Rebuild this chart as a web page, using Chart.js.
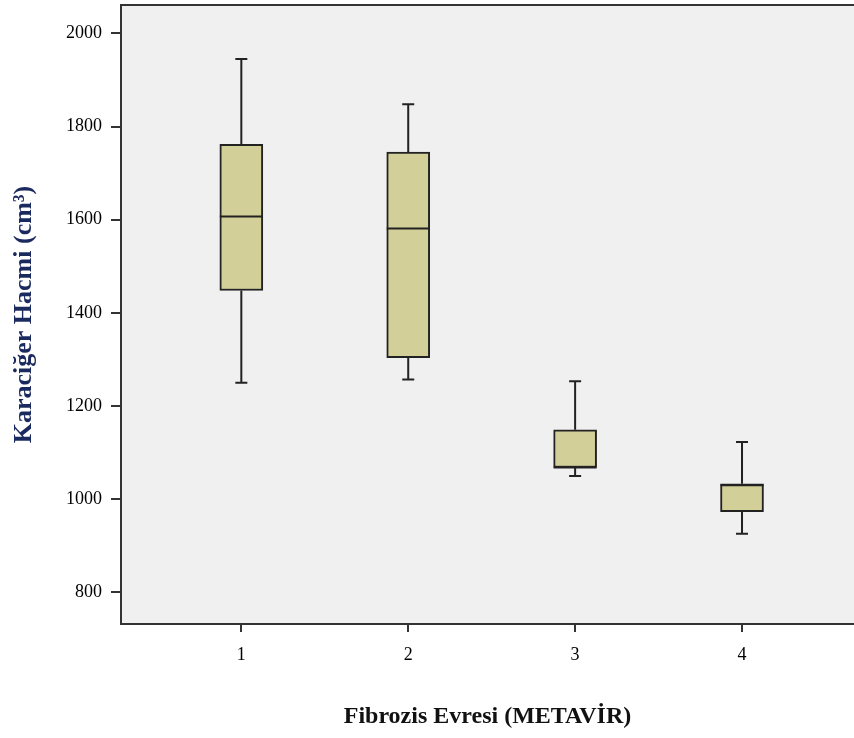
<html>
<head>
    <meta charset="utf-8">
    <script src="https://cdn.jsdelivr.net/npm/chart.js@4.4.1/dist/chart.umd.min.js"></script>
    <style>
        body { margin: 0; background: #ffffff; }
    </style>
</head>
<body onload="drawChart();">
<canvas id="boxChart" width="854" height="738"></canvas>

<script type="text/javascript">
    // fibrosis stages and box plot values
    const stages = [1, 2, 3, 4];
    const whiskerLow = [1250, 1257, 1050, 926];
    const q1 = [1448, 1304, 1068, 973];
    const median = [1607, 1581, 1068, 1030];
    const q3 = [1762, 1745, 1149, 1033];
    const whiskerHigh = [1945, 1848, 1253, 1123];
    const yTicks = [800, 1000, 1200, 1400, 1600, 1800, 2000];

    var boxChartObj;

    // plot background + top frame line
    const frame = {
        id: 'frame',
        beforeDraw(chart) {
            const {ctx, chartArea: a} = chart;
            ctx.save();
            ctx.fillStyle = '#f0f0f0';
            ctx.fillRect(a.left, a.top, a.right - a.left, a.bottom - a.top);
            ctx.strokeStyle = '#333333';
            ctx.lineWidth = 2;
            ctx.beginPath();
            ctx.moveTo(a.left, a.top);
            ctx.lineTo(a.right, a.top);
            ctx.stroke();
            ctx.restore();
        }
    };

    // whiskers and medians, placed through the chart scales
    const whiskers = {
        id: 'whiskers',
        afterDatasetsDraw(chart) {
            const {ctx, scales: {x, y}} = chart;
            ctx.save();
            ctx.strokeStyle = '#222222';
            ctx.lineWidth = 2;
            for (let i = 0; i < stages.length; i++) {
                const cx = x.getPixelForValue(stages[i]);
                const boxW = chart.getDatasetMeta(0).data[i].width;
                const capW = 12;
                ctx.beginPath();
                ctx.moveTo(cx, y.getPixelForValue(q3[i]));
                ctx.lineTo(cx, y.getPixelForValue(whiskerHigh[i]));
                ctx.moveTo(cx - capW / 2, y.getPixelForValue(whiskerHigh[i]));
                ctx.lineTo(cx + capW / 2, y.getPixelForValue(whiskerHigh[i]));
                ctx.moveTo(cx, y.getPixelForValue(q1[i]));
                ctx.lineTo(cx, y.getPixelForValue(whiskerLow[i]));
                ctx.moveTo(cx - capW / 2, y.getPixelForValue(whiskerLow[i]));
                ctx.lineTo(cx + capW / 2, y.getPixelForValue(whiskerLow[i]));
                ctx.moveTo(cx - boxW / 2, y.getPixelForValue(median[i]));
                ctx.lineTo(cx + boxW / 2, y.getPixelForValue(median[i]));
                ctx.stroke();
            }
            ctx.restore();
        }
    };

    function noPadding(scale) {
        scale.paddingTop = 0;
        scale.paddingBottom = 0;
        scale.paddingLeft = 0;
        scale.paddingRight = 0;
    }

    function drawChart() {
        const boxData = stages.map((s, i) => ({x: s, y: [q1[i], q3[i]]}));

        const canvas = document.getElementById('boxChart');
        boxChartObj = new Chart(canvas, {
            type: 'bar',
            data: {
                datasets: [{
                    label: 'Karaciğer Hacmi',
                    data: boxData,
                    backgroundColor: '#d3cf98',
                    borderColor: '#222222',
                    borderWidth: 2,
                    borderSkipped: false,
                    barThickness: 43,
                    grouped: false
                }]
            },
            options: {
                responsive: false,
                animation: false,
                devicePixelRatio: 1,
                layout: {
                    padding: {top: 5, right: 0, left: 0, bottom: 0}
                },
                plugins: {
                    legend: {display: false},
                    tooltip: {enabled: false}
                },
                scales: {
                    x: {
                        type: 'linear',
                        offset: false,
                        min: 0.279,
                        max: 4.671,
                        afterBuildTicks: (scale) => {
                            scale.ticks = stages.map(v => ({value: v}));
                        },
                        afterFit: (scale) => { scale.height = 114; noPadding(scale); },
                        grid: {
                            offset: false,
                            drawOnChartArea: false,
                            tickLength: 8,
                            color: '#333333',
                            lineWidth: 2
                        },
                        border: {display: true, color: '#333333', width: 2},
                        ticks: {
                            padding: 12,
                            color: '#000000',
                            font: {family: 'Liberation Serif', size: 18},
                            callback: (v) => String(v)
                        },
                        title: {
                            display: true,
                            text: 'Fibrozis Evresi (METAVİR)',
                            color: '#111111',
                            font: {family: 'Liberation Serif', size: 24, weight: 'bold'},
                            padding: {top: 0, bottom: 7}
                        }
                    },
                    y: {
                        min: 732,
                        max: 2061,
                        afterBuildTicks: (scale) => {
                            scale.ticks = yTicks.map(v => ({value: v}));
                        },
                        afterFit: (scale) => { scale.width = 121; noPadding(scale); },
                        grid: {
                            drawOnChartArea: false,
                            tickLength: 10,
                            color: '#333333',
                            lineWidth: 2
                        },
                        border: {display: true, color: '#333333', width: 2},
                        ticks: {
                            padding: 9,
                            color: '#000000',
                            font: {family: 'Liberation Serif', size: 18},
                            callback: (v) => String(v)
                        },
                        title: {
                            display: true,
                            text: 'Karaciğer Hacmi (cm³)',
                            color: '#1b2a5e',
                            font: {family: 'Liberation Serif', size: 26, weight: 'bold'},
                            padding: {top: 9, bottom: 0}
                        }
                    }
                }
            },
            plugins: [frame, whiskers]
        });
    }
</script>

</body>
</html>
